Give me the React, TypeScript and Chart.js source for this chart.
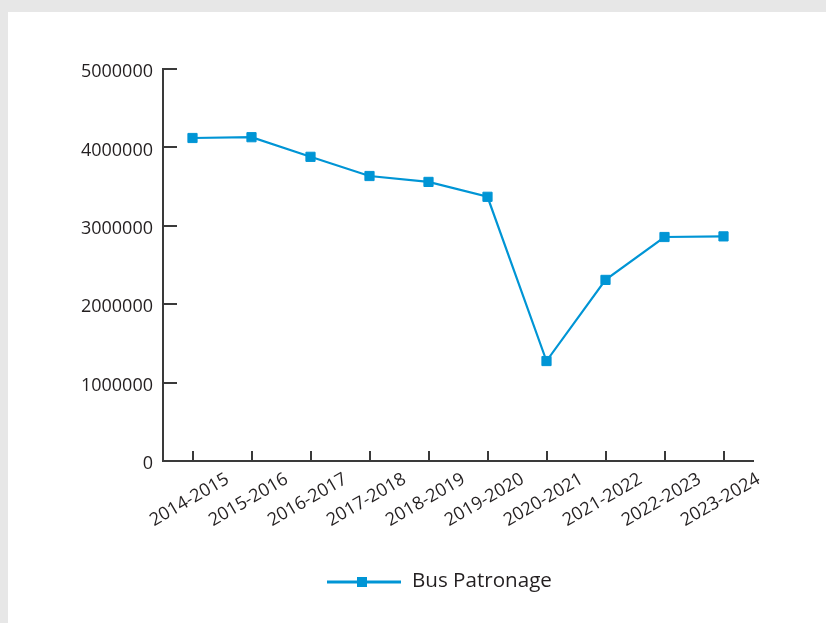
import React, { useEffect, useRef } from "react";
import { Chart, registerables } from "chart.js";

Chart.register(...registerables);

const categories = [
  "2014-2015", "2015-2016", "2016-2017", "2017-2018", "2018-2019",
  "2019-2020", "2020-2021", "2021-2022", "2022-2023", "2023-2024",
];
const busPatronage = [
  4120000, 4130000, 3880000, 3635000, 3560000,
  3370000, 1275000, 2310000, 2857000, 2865000,
];
const seriesName = "Bus Patronage";
const yTicks = [0, 1000000, 2000000, 3000000, 4000000, 5000000];

const FONT = "'Open Sans', 'Noto Sans', sans-serif";
const TEXT = "#231f20";
const AXIS = "#3a3a3a";
const BLUE = "#0095d5";

const customPlugin = {
  id: "customDecor",
  afterDraw(chart: any) {
    const ctx = chart.ctx;
    const area = chart.chartArea;
    const x = chart.scales.x;
    const y = chart.scales.y;
    ctx.save();
    // inward tick marks
    ctx.strokeStyle = AXIS;
    ctx.lineWidth = 2;
    ctx.beginPath();
    yTicks.forEach((v) => {
      const py = Math.round(y.getPixelForValue(v));
      ctx.moveTo(area.left, py);
      ctx.lineTo(area.left + 14, py);
    });
    categories.forEach((_, i) => {
      const px = Math.round(x.getPixelForValue(i));
      ctx.moveTo(px, area.bottom);
      ctx.lineTo(px, area.bottom - 10);
    });
    ctx.stroke();
    // y labels
    ctx.fillStyle = TEXT;
    ctx.font = `18px ${FONT}`;
    ctx.textAlign = "right";
    ctx.textBaseline = "middle";
    yTicks.forEach((v) => {
      const py = y.getPixelForValue(v);
      ctx.fillText(String(v), area.left - 10, py + 3);
    });
    // rotated x labels centered under ticks
    ctx.textAlign = "center";
    categories.forEach((c, i) => {
      const px = x.getPixelForValue(i);
      ctx.save();
      ctx.translate(px - 3, area.bottom + 39);
      ctx.rotate(-Math.PI / 6);
      ctx.fillText(c, 0, 0);
      ctx.restore();
    });
    // legend
    const ly = 570;
    ctx.strokeStyle = BLUE;
    ctx.lineWidth = 3;
    ctx.beginPath();
    ctx.moveTo(319, ly);
    ctx.lineTo(393, ly);
    ctx.stroke();
    ctx.fillStyle = BLUE;
    ctx.fillRect(354 - 5, ly - 5, 10, 10);
    ctx.fillStyle = TEXT;
    ctx.font = `20.6px ${FONT}`;
    ctx.textAlign = "left";
    ctx.textBaseline = "middle";
    ctx.fillText(seriesName, 404, ly - 1);
    ctx.restore();
  },
};

export default function App() {
  const ref = useRef<HTMLCanvasElement | null>(null);

  useEffect(() => {
    document.body.style.margin = "0";
    document.body.style.background = "#e7e7e7";
    const canvas = ref.current;
    if (!canvas) return;
    const chart = new Chart(canvas, {
      type: "line",
      data: {
        labels: categories,
        datasets: [
          {
            label: seriesName,
            data: busPatronage,
            borderColor: BLUE,
            backgroundColor: BLUE,
            borderWidth: 2.2,
            pointStyle: "rect",
            pointRadius: 6.5,
            pointBorderWidth: 1,
            pointBackgroundColor: BLUE,
            pointBorderColor: BLUE,
            tension: 0,
          },
        ],
      },
      options: {
        animation: false,
        responsive: false,
        devicePixelRatio: 1,
        layout: { padding: { left: 0, right: 73, top: 57, bottom: 0 } },
        plugins: {
          legend: { display: false },
          tooltip: { enabled: false },
        },
        scales: {
          x: {
            type: "category",
            offset: true,
            grid: { display: true, drawOnChartArea: false, drawTicks: false },
            border: { display: true, color: AXIS, width: 2 },
            ticks: { display: false },
            afterFit: (s: any) => {
              s.height = 162;
            },
          },
          y: {
            min: 0,
            max: 5000000,
            grid: { display: true, drawOnChartArea: false, drawTicks: false },
            border: { display: true, color: AXIS, width: 2 },
            afterBuildTicks: (s: any) => {
              s.ticks = yTicks.map((v) => ({ value: v }));
            },
            ticks: { display: false },
            afterFit: (s: any) => {
              s.width = 155;
            },
          },
        },
      },
      plugins: [customPlugin],
    });
    return () => chart.destroy();
  }, []);

  return (
    <div
      style={{
        position: "absolute",
        left: 8,
        top: 12,
        width: 818,
        height: 611,
        background: "#ffffff",
      }}
    >
      <canvas ref={ref} width={818} height={611} style={{ display: "block" }} />
    </div>
  );
}
